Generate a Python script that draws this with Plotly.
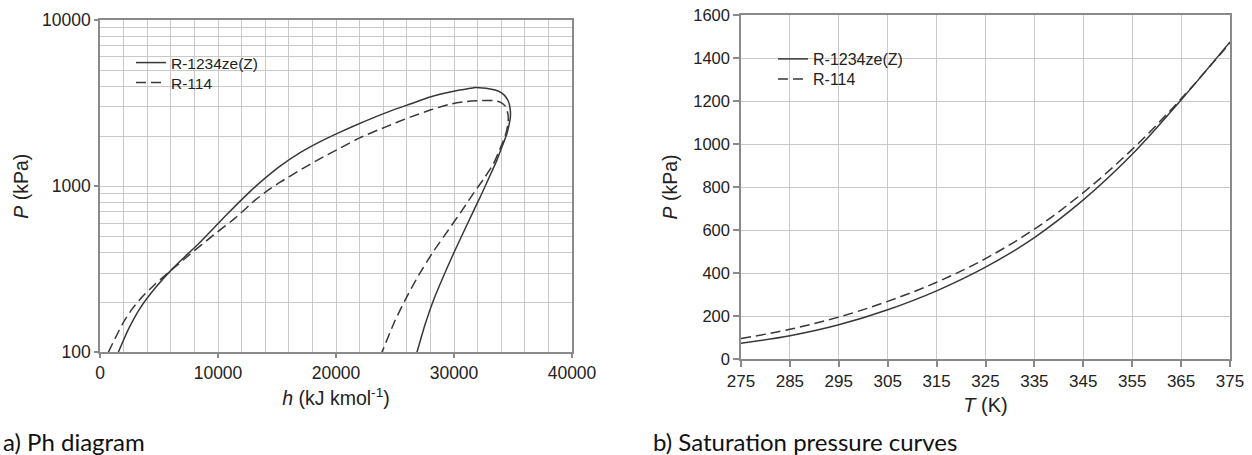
import plotly.graph_objects as go

# ---- (a) Ph diagram data ----
h_r1234 = [1550, 2370, 3390, 4660, 6190, 8480, 10770, 12800, 13990, 15260, 16960, 18660,
           20350, 22470, 24590, 26290, 27980, 29680, 31380, 31800, 33070, 33750, 34260,
           34600, 34770, 34770, 34640, 34490, 34090, 33640, 32990, 32370, 31120, 29960,
           29090, 28260, 27560, 26860]
P_r1234_h = [100, 136, 184, 243, 321, 460, 678, 940, 1117, 1320, 1591, 1854,
             2115, 2464, 2830, 3119, 3437, 3684, 3878, 3921, 3840, 3735, 3532,
             3251, 2870, 2568, 2298, 2077, 1742, 1434, 1133, 907, 590, 393,
             285, 206, 148, 100]

h_r114 = [704, 1272, 1950, 2714, 3562, 4664, 5936, 7632, 9498, 11448, 13144, 14246,
          15264, 16960, 18656, 20352, 22048, 24168, 26288, 27984, 29680, 30952, 32224,
          33326, 33920, 34344, 34573, 34598, 34429, 34174, 33750, 33326, 32563, 31715,
          30697, 29510, 28153, 27051, 26033, 25016, 23888]
P_r114_h = [100, 121, 150, 182, 215, 257, 308, 389, 500, 642, 824, 946,
            1057, 1249, 1465, 1694, 1960, 2267, 2604, 2870, 3119, 3228, 3274,
            3274, 3206, 3033, 2715, 2430, 2115, 1867, 1580, 1357, 1117, 920,
            717, 543, 395, 295, 218, 156, 100]

# ---- (b) saturation pressure data ----
T_K = [275, 285, 295, 305, 315, 325, 335, 345, 355, 365, 375]
Psat_r1234 = [73, 108, 159, 229, 317, 427, 565, 740, 952, 1205, 1475]
Psat_r114 = [95, 138, 195, 268, 357, 467, 604, 774, 975, 1210, 1470]

names = ["R-1234ze(Z)", "R-114"]

W, H = 1252, 455
LINE = "#383838"
GRID = "#c9c9c9"
AXIS = "#8a8a8a"
FONT = "Arial, Liberation Sans, sans-serif"


def px_x(v):
    return v / W


def px_y(v):
    return 1 - v / H


fig = go.Figure()
fig.add_trace(go.Scatter(x=h_r1234, y=P_r1234_h, mode="lines", name=names[0],
                         line=dict(color=LINE, width=1.5, shape="spline", smoothing=0.5),
                         xaxis="x", yaxis="y", legend="legend"))
fig.add_trace(go.Scatter(x=h_r114, y=P_r114_h, mode="lines", name=names[1],
                         line=dict(color=LINE, width=1.5, dash="10px,5px", shape="spline", smoothing=0.5),
                         xaxis="x", yaxis="y", legend="legend2"))
fig.add_trace(go.Scatter(x=T_K, y=Psat_r1234, mode="lines", name=names[0],
                         line=dict(color=LINE, width=1.5, shape="spline"),
                         xaxis="x2", yaxis="y2", legend="legend3"))
fig.add_trace(go.Scatter(x=T_K, y=Psat_r114, mode="lines", name=names[1],
                         line=dict(color=LINE, width=1.5, dash="10px,5px", shape="spline"),
                         xaxis="x2", yaxis="y2", legend="legend4"))

axis_common = dict(showline=True, linecolor=AXIS, linewidth=1.5, mirror=True,
                   showgrid=True, gridcolor=GRID, gridwidth=1, zeroline=False,
                   ticks="outside", tickcolor=AXIS, tickwidth=1.5, automargin=False)


def leg(x, y, size):
    return dict(x=px_x(x), y=px_y(y), xanchor="left", yanchor="middle", visible=True,
                bgcolor="rgba(0,0,0,0)", font=dict(size=size, color="#222222"))


fig.update_layout(
    template="none",
    width=W, height=H,
    showlegend=True,
    margin=dict(l=0, r=0, t=0, b=0),
    paper_bgcolor="white", plot_bgcolor="white",
    font=dict(family=FONT, color="#222222"),
    xaxis=dict(domain=[px_x(100), px_x(572)], range=[0, 40000], dtick=10000,
               tickformat="d", ticklen=4, anchor="y",
               tickfont=dict(size=17.5),
               minor=dict(dtick=2000, showgrid=True, gridcolor=GRID, ticks=""),
               title=dict(text="<i>h</i> (kJ kmol<sup>-1</sup>)", font=dict(size=19.5), standoff=9),
               **axis_common),
    yaxis=dict(domain=[px_y(352.3), px_y(20)], type="log", range=[2, 4], dtick=1,
               tickformat="d", ticklen=4, anchor="x",
               tickfont=dict(size=17.5),
               minor=dict(dtick="D1", showgrid=True, gridcolor=GRID, ticks=""),
               title=dict(text="<i>P</i> (kPa)", font=dict(size=19.5), standoff=8),
               **axis_common),
    xaxis2=dict(domain=[px_x(741), px_x(1230)], range=[275, 375], tick0=275, dtick=10,
                ticklen=6, anchor="y2",
                tickfont=dict(size=17),
                title=dict(text="<i>T</i> (K)", font=dict(size=20), standoff=8),
                **axis_common),
    yaxis2=dict(domain=[px_y(359), px_y(15)], range=[0, 1600], dtick=200,
                ticklen=6, anchor="x2",
                tickfont=dict(size=16.5),
                title=dict(text="<i>P</i> (kPa)", font=dict(size=19.5), standoff=10),
                **axis_common),
    legend=leg(131, 63, 15.5),
    legend2=leg(131, 83, 15.5),
    legend3=leg(773, 59, 16),
    legend4=leg(773, 79, 16),
    annotations=[
        dict(text="a) Ph diagram", xref="paper", yref="paper", x=px_x(1), y=px_y(441),
             xanchor="left", yanchor="middle", showarrow=False,
             font=dict(family="Lato, Noto Sans, sans-serif", size=24, color="#111111")),
        dict(text="b) Saturation pressure curves", xref="paper", yref="paper", x=px_x(651), y=px_y(441),
             xanchor="left", yanchor="middle", showarrow=False,
             font=dict(family="Lato, Noto Sans, sans-serif", size=24, color="#111111")),
    ],
)

fig.write_html("out.html", config={"displayModeBar": False},
               post_script="document.body.style.margin='0';document.body.style.overflow='hidden';")
